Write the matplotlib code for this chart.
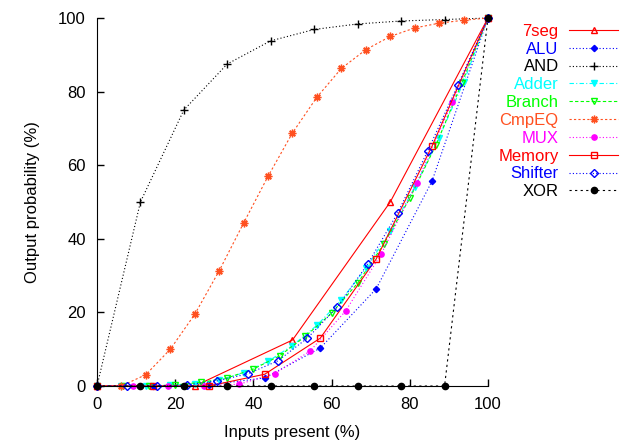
import matplotlib
matplotlib.use('Agg')
import matplotlib.pyplot as plt

plt.rcParams['font.family'] = ['Liberation Sans', 'DejaVu Sans']

# values
x_7seg = [0, 25, 50, 75, 100]
y_7seg = [0, 0, 12.5, 50, 100]

x_alu = [0, 14.3, 28.6, 42.9, 57.1, 71.4, 85.7, 100]
y_alu = [0, 0, 0.3, 2.2, 10.3, 26.4, 55.7, 100]

x_and = [0, 11.1, 22.2, 33.3, 44.4, 55.6, 66.7, 77.8, 88.9, 100]
y_and = [0, 50, 75, 87.5, 93.8, 96.9, 98.4, 99.2, 99.6, 100]

x_adder = [0, 6.25, 12.5, 18.75, 25, 31.25, 37.5, 43.75, 50, 56.25, 62.5, 68.75, 75, 81.25, 87.5, 93.75, 100]
y_adder = [0, 0, 0, 0.2, 0.6, 1.6, 3.6, 6.7, 11, 16.5, 23.4, 32, 42, 54, 67.5, 82.5, 100]

x_branch = [0, 6.67, 13.3, 20, 26.7, 33.3, 40, 46.7, 53.3, 60, 66.7, 73.3, 80, 86.7, 93.3, 100]
y_branch = [0, 0, 0, 0.3, 1, 2.2, 4.6, 8.2, 13.5, 19.8, 28, 38.5, 51, 65.5, 82.3, 100]

x_cmpeq = [0, 6.25, 12.5, 18.75, 25, 31.25, 37.5, 43.75, 50, 56.25, 62.5, 68.75, 75, 81.25, 87.5, 93.75, 100]
y_cmpeq = [0, 0, 3.1, 10, 19.5, 31.3, 44.3, 57, 68.8, 78.5, 86.3, 91.4, 95, 97.3, 98.6, 99.4, 100]

x_mux = [0, 9.09, 18.2, 27.3, 36.4, 45.5, 54.5, 63.6, 72.7, 81.8, 90.9, 100]
y_mux = [0, 0, 0, 0.1, 0.5, 3.4, 9.5, 20.4, 35.9, 55.2, 77.2, 100]

x_memory = [0, 14.3, 28.6, 42.9, 57.1, 71.4, 85.7, 100]
y_memory = [0, 0, 0, 3.2, 13, 34.5, 65.2, 100]

x_shifter = [0, 7.69, 15.4, 23.1, 30.8, 38.5, 46.2, 53.8, 61.5, 69.2, 76.9, 84.6, 92.3, 100]
y_shifter = [0, 0, 0, 0.3, 1.4, 3.3, 6.8, 13, 21.5, 33.1, 47, 63.9, 81.8, 100]

x_xor = [0, 11.1, 22.2, 33.3, 44.4, 55.6, 66.7, 77.8, 88.9, 100]
y_xor = [0, 0, 0, 0, 0, 0, 0, 0, 0, 100]

dot = (0, (1, 2))

fig, ax = plt.subplots(figsize=(6.28, 4.4), dpi=100)
fig.subplots_adjust(left=0.1545, right=0.777, bottom=0.1227, top=0.959)

lw = 0.8
kw = dict(lw=lw, ms=4.5, clip_on=False)
ax.plot(x_7seg, y_7seg, color='#ff0000', ls='-', marker='^', mfc='none', label='7seg', **kw)
ax.plot(x_alu, y_alu, color='#0000ff', ls=dot, marker='D', ms=3.2, lw=lw, clip_on=False, label='ALU')
ax.plot(x_and, y_and, color='black', ls=dot, marker='+', ms=6, lw=lw, clip_on=False, label='AND')
ax.plot(x_adder, y_adder, color='#00ffff', ls=(0, (4, 2, 1, 2)), marker='v', **kw, label='Adder')
ax.plot(x_branch, y_branch, color='#00ff00', ls=(0, (3, 2)), marker='v', mfc='none', **kw, label='Branch')
ax.plot(x_cmpeq, y_cmpeq, color='#ff5020', ls=(0, (2, 2)), marker=(8, 2, 0), ms=5.5, lw=lw, clip_on=False, label='CmpEQ')
ax.plot(x_mux, y_mux, color='#ff00ff', ls=dot, marker='o', ms=3.8, lw=lw, clip_on=False, label='MUX')
ax.plot(x_memory, y_memory, color='#ff0000', ls='-', marker='s', mfc='none', **kw, label='Memory')
ax.plot(x_shifter, y_shifter, color='#0000ff', ls=dot, marker='D', mfc='none', ms=4.2, lw=lw, clip_on=False, label='Shifter')
ax.plot(x_xor, y_xor, color='black', ls=(0, (2, 3)), marker='o', ms=4.5, lw=lw, clip_on=False, label='XOR')

ax.set_xlim(0, 100)
ax.set_ylim(0, 100)
ax.set_xticks([0, 20, 40, 60, 80, 100])
ax.set_yticks([0, 20, 40, 60, 80, 100])
ax.spines['top'].set_visible(False)
ax.spines['right'].set_visible(False)
ax.tick_params(direction='in', length=5, width=1, labelsize=12, pad=8)

ax.set_xlabel('Inputs present (%)', fontsize=12, labelpad=9)
ax.set_ylabel('Output probability (%)', fontsize=12, labelpad=13)

leg = ax.legend(loc='upper right', bbox_to_anchor=(0.997, 0.965), bbox_transform=fig.transFigure,
                markerfirst=False, frameon=False, fontsize=12, labelcolor='linecolor',
                handlelength=2.9, handletextpad=0.65, labelspacing=0.17, borderpad=0)

fig.savefig('out.png', dpi=100)
